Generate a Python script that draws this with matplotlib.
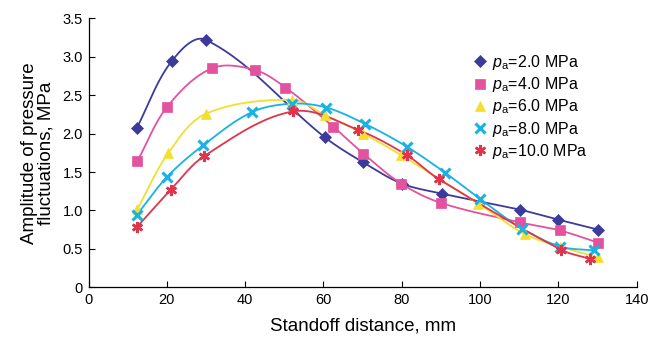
import matplotlib

matplotlib.use("Agg")
import matplotlib.pyplot as plt
import numpy as np

plt.rcParams["font.family"] = ["Liberation Sans", "DejaVu Sans"]
plt.rcParams["mathtext.fontset"] = "custom"
plt.rcParams["mathtext.rm"] = "Liberation Sans"
plt.rcParams["mathtext.it"] = "Liberation Sans:italic"

# standoff distance (mm) vs amplitude (MPa)
x_2 = [12.3, 21.2, 30.0, 60.4, 70.0, 80.0, 90.2, 110.2, 120.0, 130.2]
y_2 = [2.07, 2.94, 3.22, 1.95, 1.63, 1.35, 1.22, 1.01, 0.88, 0.75]

x_4 = [12.5, 20.1, 31.5, 42.4, 50.3, 62.5, 70.2, 79.8, 89.9, 110.2, 120.4, 130.2]
y_4 = [1.645, 2.35, 2.85, 2.83, 2.60, 2.09, 1.74, 1.35, 1.10, 0.845, 0.74, 0.58]

x_6 = [12.5, 20.4, 30.0, 52.0, 60.4, 70.2, 79.8, 99.5, 111.5, 120.4, 130.0]
y_6 = [1.02, 1.75, 2.26, 2.44, 2.24, 2.00, 1.72, 1.09, 0.69, 0.53, 0.39]

x_8 = [12.3, 20.1, 29.3, 41.7, 51.9, 60.7, 70.5, 81.3, 91.1, 100.0, 110.8, 120.5, 129.1]
y_8 = [0.94, 1.44, 1.85, 2.28, 2.39, 2.34, 2.13, 1.83, 1.49, 1.15, 0.76, 0.53, 0.48]

x_10 = [12.3, 21.0, 29.6, 52.3, 68.8, 81.3, 89.4, 120.6, 128.1]
y_10 = [0.78, 1.27, 1.71, 2.29, 2.05, 1.72, 1.41, 0.49, 0.37]

labels = ["2.0", "4.0", "6.0", "8.0", "10.0"]

XMAX, YMAX = 140, 3.5
AX_W, AX_H = 548.0, 269.0  # axes size in pixels, smoothing is done in screen space


def smooth(xs, ys, n=30, k=0.33):
    # smoothed line: cubic Bezier through the points, tangent along the neighbours,
    # control handles scaled by the length of each segment
    p = np.column_stack([np.asarray(xs) / XMAX * AX_W, np.asarray(ys) / YMAX * AX_H])
    pe = np.vstack([p[0], p, p[-1]])
    d = pe[2:] - pe[:-2]
    d = d / np.linalg.norm(d, axis=1)[:, None]
    t = np.linspace(0, 1, n)[:, None]
    out = []
    for i in range(len(p) - 1):
        p1, p2 = p[i], p[i + 1]
        L = np.linalg.norm(p2 - p1)
        c1 = p1 + d[i] * L * k
        c2 = p2 - d[i + 1] * L * k
        seg = ((1 - t) ** 3) * p1 + 3 * ((1 - t) ** 2) * t * c1 + 3 * (1 - t) * t ** 2 * c2 + t ** 3 * p2
        out.append(seg)
    seg = np.vstack(out)
    return seg[:, 0] / AX_W * XMAX, seg[:, 1] / AX_H * YMAX


series = [
    (x_2, y_2, "#3b3b9c", "D", 6.5, 0.5),
    (x_4, y_4, "#e2529e", "s", 6.5, 0.5),
    (x_6, y_6, "#f2df2e", "^", 7.5, 0.5),
    (x_8, y_8, "#19b2e2", "x", 7, 2.2),
    (x_10, y_10, "#e2334c", (6, 2, 0), 8, 1.8),
]

fig = plt.figure(figsize=(6.64, 3.47), dpi=100)
ax = fig.add_axes([0.1333, 0.172, 0.8257, 0.775])

for (xs, ys, col, mk, ms, mew), lab in zip(series, labels):
    sx, sy = smooth(xs, ys)
    ax.plot(sx, sy, color=col, lw=1.3, zorder=2)
    ax.plot(xs, ys, ls="none", marker=mk, ms=ms, color=col, mec=col, mew=mew,
            label=r"$p_{\rm a}$=" + lab + " MPa", zorder=3)

ax.set_xlim(0, XMAX)
ax.set_ylim(0, YMAX)
ax.set_xticks(np.arange(0, 141, 20))
ax.set_yticks(np.arange(0, 3.51, 0.5))
ax.set_yticklabels(["0"] + [f"{v:.1f}" for v in np.arange(0.5, 3.51, 0.5)])
ax.tick_params(direction="in", length=4, width=0.8, labelsize=10.5, pad=4)
for s in ("top", "right"):
    ax.spines[s].set_visible(False)
ax.spines["left"].set_linewidth(0.9)
ax.spines["bottom"].set_linewidth(0.9)

ax.set_xlabel("Standoff distance, mm", fontsize=13.5, labelpad=8)
ax.set_ylabel("Amplitude of pressure\nfluctuations, MPa", fontsize=13.5, labelpad=6,
              linespacing=0.95)

ax.legend(loc="upper left", bbox_to_anchor=(0.69, 0.895), frameon=False, fontsize=11.5,
          handlelength=0.8, handletextpad=0.4, labelspacing=0.2, borderaxespad=0)

fig.savefig("out.png", dpi=100)
